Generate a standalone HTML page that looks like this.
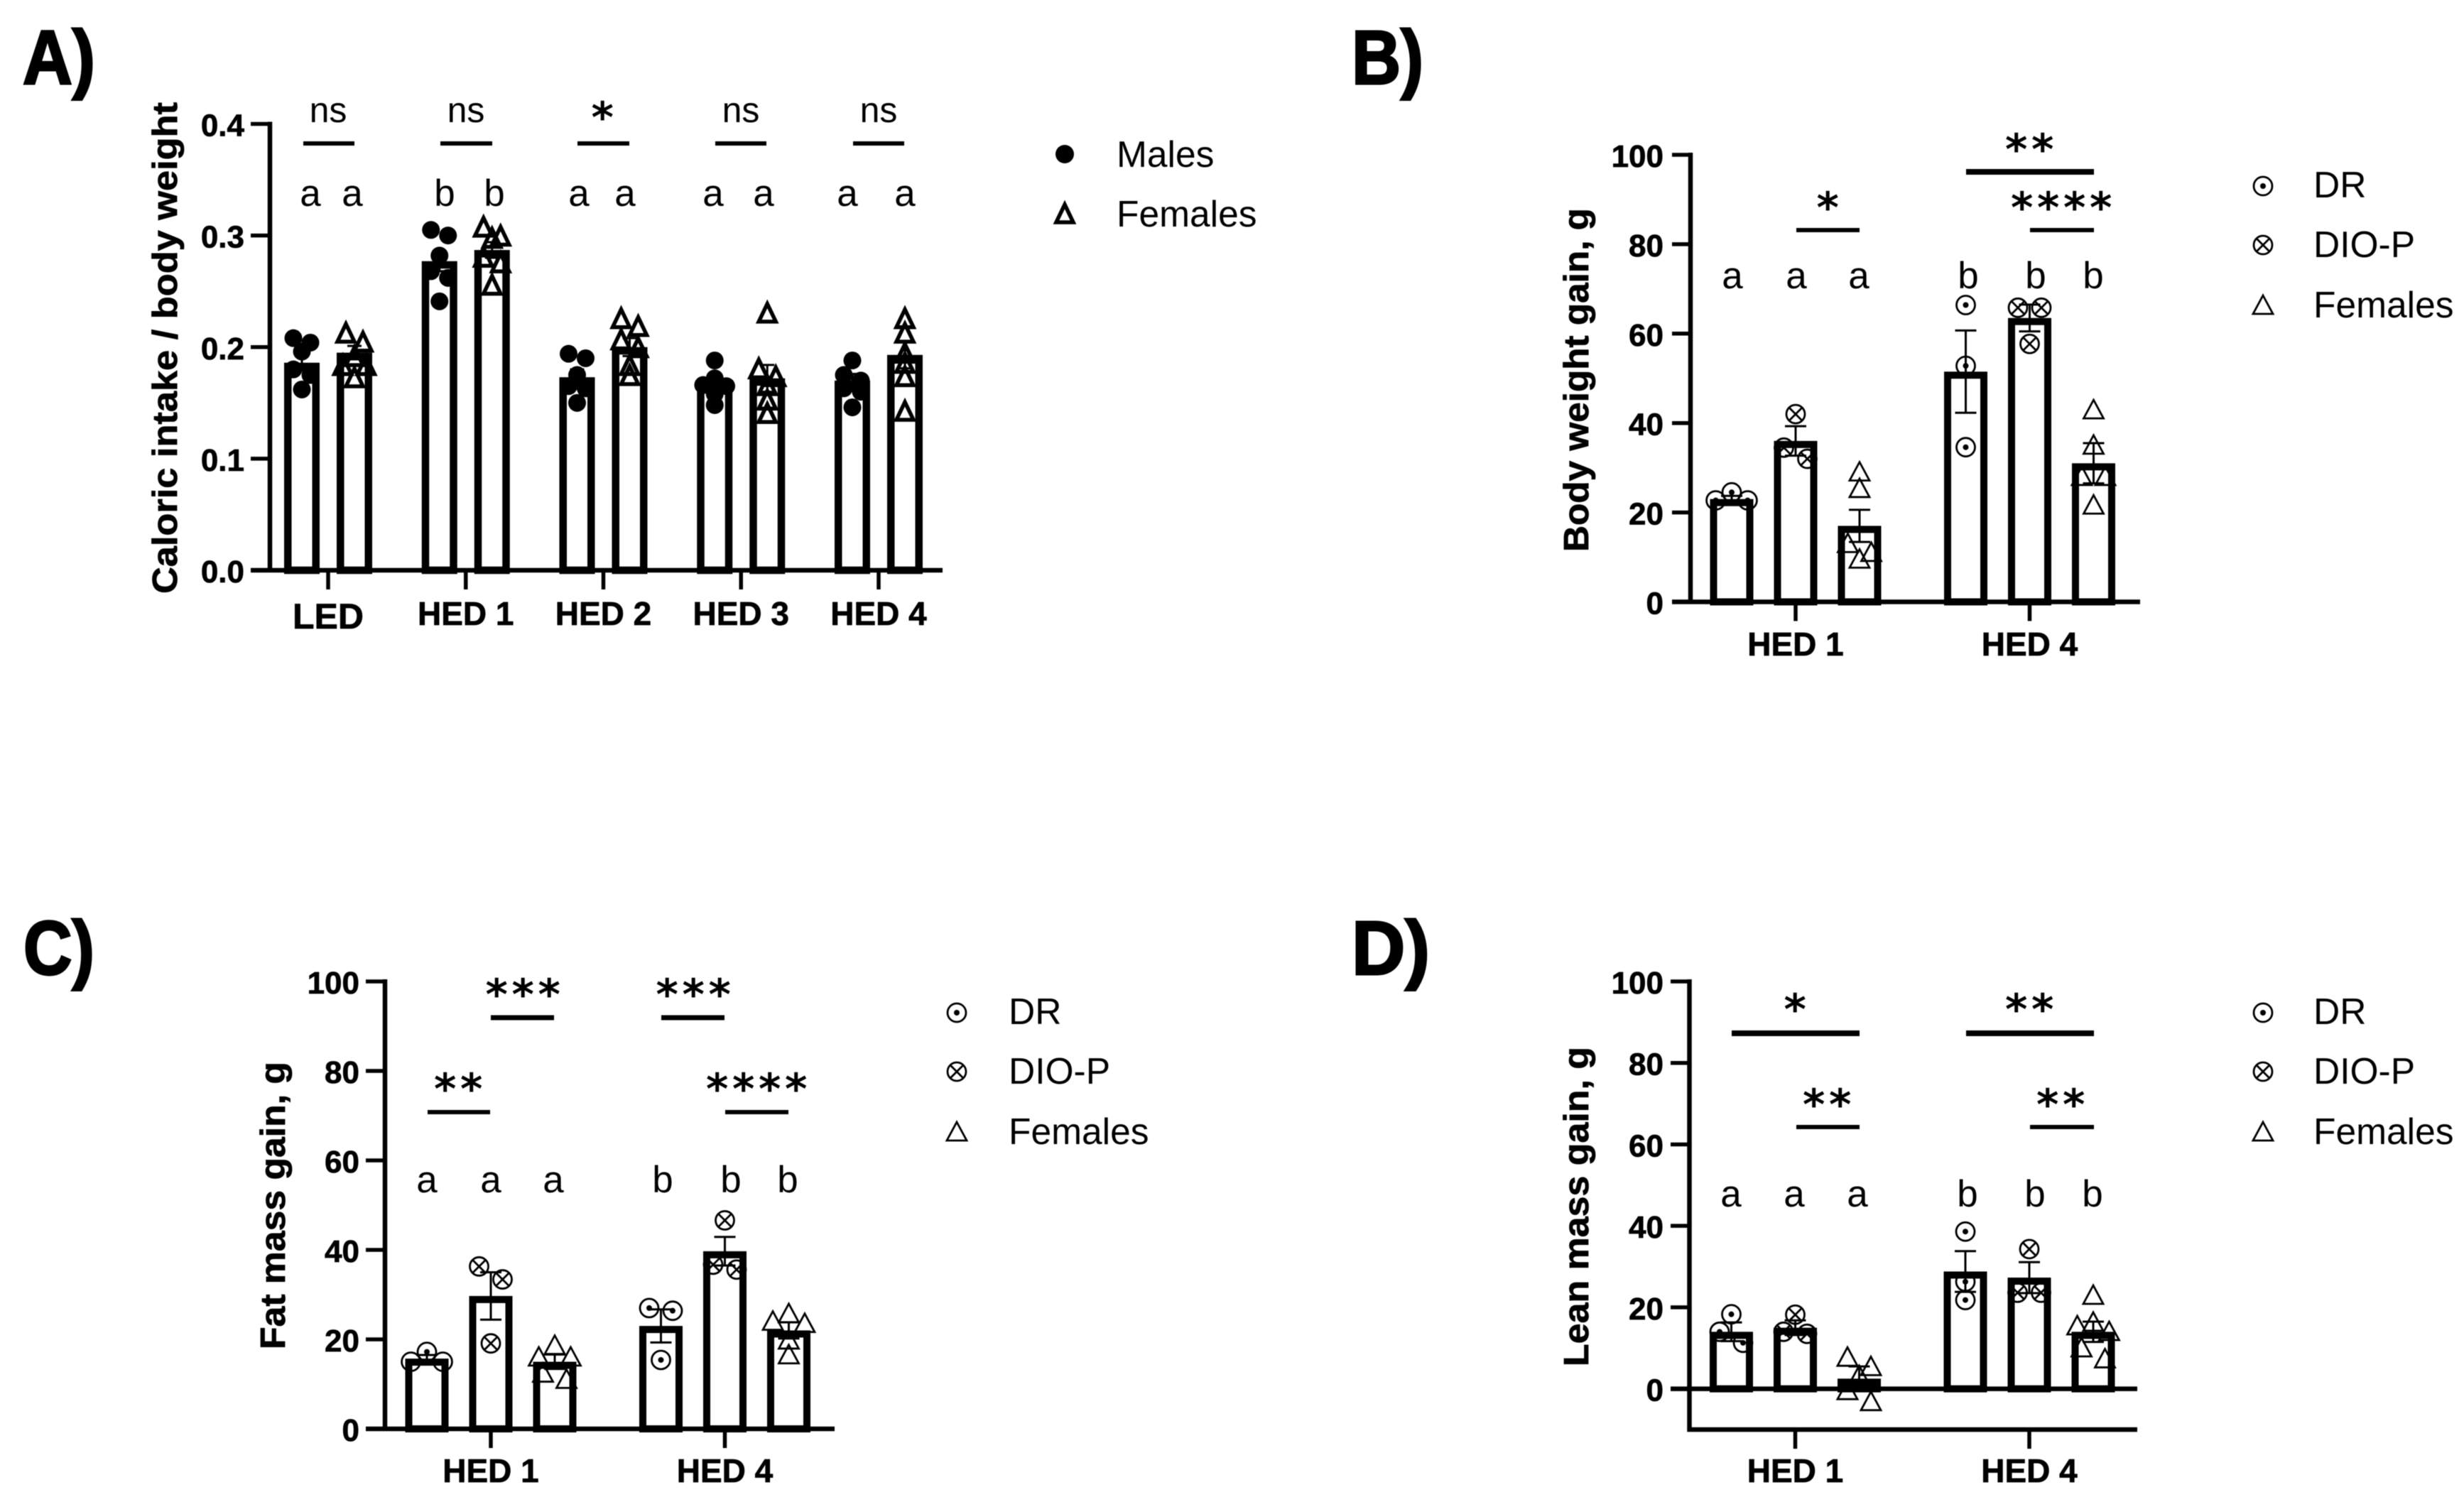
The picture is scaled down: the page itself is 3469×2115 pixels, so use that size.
<!DOCTYPE html>
<html lang="en">
<head>
<meta charset="utf-8">
<title>Caloric intake and weight gain panels</title>
<style>
html,body{margin:0;padding:0;background:#fff;}
svg{display:block;filter:blur(0.6px);}
text{font-family:"Liberation Sans",sans-serif;fill:#000;}
.title{font-size:108px;font-weight:700;stroke:#000;stroke-width:3px;}
.ylab{font-size:49px;font-weight:700;stroke:#000;stroke-width:0.8px;}
.leg{font-size:51.5px;}
.lt{font-size:53px;text-anchor:middle;}
.star{font-family:"DejaVu Sans",sans-serif;font-size:60px;font-weight:700;text-anchor:middle;letter-spacing:5.6px;}
.ns{font-size:50px;text-anchor:middle;}
.sig{stroke:#000;fill:none;}
.mk{stroke:#000;fill:none;stroke-width:2.8;}
.tk{stroke:#000;stroke-width:0.7px;}
</style>
</head>
<body>
<svg id="figure" xmlns="http://www.w3.org/2000/svg" width="3469" height="2115" viewBox="0 0 3469 2115">
<rect width="3469" height="2115" fill="#fff"/>

<text class="title" x="32" y="118" textLength="102" lengthAdjust="spacingAndGlyphs">A)</text>
<text class="title" x="1903" y="118" textLength="101" lengthAdjust="spacingAndGlyphs">B)</text>
<text class="title" x="33" y="1372" textLength="100" lengthAdjust="spacingAndGlyphs">C)</text>
<text class="title" x="1903" y="1372" textLength="110" lengthAdjust="spacingAndGlyphs">D)</text>

<text class="ylab" transform="translate(249,836) rotate(-90)" textLength="692" lengthAdjust="spacingAndGlyphs">Caloric intake / body weight</text>
<text class="ylab" transform="translate(2236,777) rotate(-90)" textLength="484" lengthAdjust="spacingAndGlyphs">Body weight gain, g</text>
<text class="ylab" transform="translate(401,1900) rotate(-90)" textLength="405" lengthAdjust="spacingAndGlyphs">Fat mass gain, g</text>
<text class="ylab" transform="translate(2236,1924) rotate(-90)" textLength="450" lengthAdjust="spacingAndGlyphs">Lean mass gain, g</text>

<g id="plots"></g>

<!-- Panel A annotations -->
<g>
<text class="ns" x="462" y="172">ns</text>
<text class="ns" x="656" y="172">ns</text>
<text class="star" x="851" y="186">*</text>
<text class="ns" x="1043" y="172">ns</text>
<text class="ns" x="1237" y="172">ns</text>
<line class="sig" stroke-width="6" x1="427" x2="499" y1="202" y2="202"/>
<line class="sig" stroke-width="6" x1="620" x2="693" y1="202" y2="202"/>
<line class="sig" stroke-width="6" x1="813" x2="886" y1="202" y2="202"/>
<line class="sig" stroke-width="6" x1="1007" x2="1079" y1="202" y2="202"/>
<line class="sig" stroke-width="6" x1="1201" x2="1273" y1="202" y2="202"/>
<text class="lt" x="437" y="290">a</text>
<text class="lt" x="496" y="290">a</text>
<text class="lt" x="626" y="290">b</text>
<text class="lt" x="696" y="290">b</text>
<text class="lt" x="815" y="290">a</text>
<text class="lt" x="880" y="290">a</text>
<text class="lt" x="1004" y="290">a</text>
<text class="lt" x="1075" y="290">a</text>
<text class="lt" x="1193" y="290">a</text>
<text class="lt" x="1274" y="290">a</text>
</g>

<!-- Panel B annotations -->
<g>
<text class="star" x="2576" y="313">*</text>
<text class="star" x="2860" y="231">**</text>
<text class="star" x="2905" y="313">****</text>
<line class="sig" stroke-width="6" x1="2529" x2="2618" y1="324" y2="324"/>
<line class="sig" stroke-width="8" x1="2768" x2="2948" y1="242" y2="242"/>
<line class="sig" stroke-width="6" x1="2858" x2="2948" y1="324" y2="324"/>
<text class="lt" x="2439" y="406">a</text>
<text class="lt" x="2529" y="406">a</text>
<text class="lt" x="2617" y="406">a</text>
<text class="lt" x="2771" y="406">b</text>
<text class="lt" x="2866" y="406">b</text>
<text class="lt" x="2947" y="406">b</text>
</g>

<!-- Panel C annotations -->
<g>
<text class="star" x="648" y="1554">**</text>
<text class="star" x="739" y="1421">***</text>
<text class="star" x="979" y="1421">***</text>
<text class="star" x="1068" y="1554">****</text>
<line class="sig" stroke-width="6" x1="602" x2="690" y1="1566" y2="1566"/>
<line class="sig" stroke-width="7" x1="691" x2="780" y1="1433" y2="1433"/>
<line class="sig" stroke-width="7" x1="931" x2="1020" y1="1433" y2="1433"/>
<line class="sig" stroke-width="6" x1="1021" x2="1110" y1="1566" y2="1566"/>
<text class="lt" x="601" y="1679">a</text>
<text class="lt" x="691" y="1679">a</text>
<text class="lt" x="779" y="1679">a</text>
<text class="lt" x="933" y="1679">b</text>
<text class="lt" x="1029" y="1679">b</text>
<text class="lt" x="1109" y="1679">b</text>
</g>

<!-- Panel D annotations -->
<g>
<text class="star" x="2530" y="1442">*</text>
<text class="star" x="2860" y="1442">**</text>
<text class="star" x="2575" y="1576">**</text>
<text class="star" x="2904" y="1576">**</text>
<line class="sig" stroke-width="8" x1="2438" x2="2618" y1="1455" y2="1455"/>
<line class="sig" stroke-width="8" x1="2768" x2="2948" y1="1455" y2="1455"/>
<line class="sig" stroke-width="6" x1="2529" x2="2618" y1="1587" y2="1587"/>
<line class="sig" stroke-width="6" x1="2858" x2="2948" y1="1587" y2="1587"/>
<text class="lt" x="2437" y="1699">a</text>
<text class="lt" x="2526" y="1699">a</text>
<text class="lt" x="2615" y="1699">a</text>
<text class="lt" x="2770" y="1699">b</text>
<text class="lt" x="2865" y="1699">b</text>
<text class="lt" x="2946" y="1699">b</text>
</g>

<!-- Legends -->
<g>
<g>
<circle cx="1499" cy="217" r="13" fill="#000"/>
<text class="leg" x="1572" y="235">Males</text>
</g>
<g>
<path d="M1499 288 L1511 313 L1487 313 Z" fill="none" stroke="#000" stroke-width="5.5"/>
<text class="leg" x="1572" y="319">Females</text>
</g>
</g>

<g>
<g>
<circle class="mk" cx="3186" cy="262" r="13"/>
<circle cx="3186" cy="262" r="4" fill="#000"/>
<text class="leg" x="3257" y="278">DR</text>
</g>
<g>
<circle class="mk" cx="3186" cy="345" r="13"/>
<path class="mk" d="M3177 336 L3195 354 M3195 336 L3177 354"/>
<text class="leg" x="3257" y="362">DIO-P</text>
</g>
<g>
<path class="mk" d="M3186 416 L3200 442 L3172 442 Z"/>
<text class="leg" x="3257" y="447">Females</text>
</g>
</g>

<g>
<g>
<circle class="mk" cx="1347" cy="1426" r="13"/>
<circle cx="1347" cy="1426" r="4" fill="#000"/>
<text class="leg" x="1420" y="1442">DR</text>
</g>
<g>
<circle class="mk" cx="1347" cy="1509" r="13"/>
<path class="mk" d="M1338 1500 L1356 1518 M1356 1500 L1338 1518"/>
<text class="leg" x="1420" y="1526">DIO-P</text>
</g>
<g>
<path class="mk" d="M1347 1580 L1361 1606 L1333 1606 Z"/>
<text class="leg" x="1420" y="1611">Females</text>
</g>
</g>

<g>
<g>
<circle class="mk" cx="3186" cy="1426" r="13"/>
<circle cx="3186" cy="1426" r="4" fill="#000"/>
<text class="leg" x="3257" y="1442">DR</text>
</g>
<g>
<circle class="mk" cx="3186" cy="1509" r="13"/>
<path class="mk" d="M3177 1500 L3195 1518 M3195 1500 L3177 1518"/>
<text class="leg" x="3257" y="1526">DIO-P</text>
</g>
<g>
<path class="mk" d="M3186 1580 L3200 1606 L3172 1606 Z"/>
<text class="leg" x="3257" y="1611">Females</text>
</g>
</g>
</svg>

<script>
// ---------- Panel A data ----------
const aCategories = ['LED', 'HED 1', 'HED 2', 'HED 3', 'HED 4'];
const aYTicks = [0, 0.1, 0.2, 0.3, 0.4];
const aYTickLabels = ['0.0', '0.1', '0.2', '0.3', '0.4'];
const aMaleMeans = [0.186, 0.277, 0.173, 0.166, 0.17];
const aMaleSems = [0.007, 0.009, 0.007, 0.006, 0.006];
const aFemaleMeans = [0.195, 0.287, 0.2, 0.172, 0.193];
const aFemaleSems = [0.006, 0.007, 0.008, 0.012, 0.012];
const aMalePoints = [
  [0.208, 0.204, 0.196, 0.18, 0.175, 0.162],
  [0.305, 0.3, 0.282, 0.268, 0.262, 0.241],
  [0.194, 0.19, 0.175, 0.165, 0.163, 0.15],
  [0.188, 0.172, 0.166, 0.165, 0.158, 0.148],
  [0.188, 0.175, 0.17, 0.163, 0.16, 0.146]
];
const aFemalePoints = [
  [0.212, 0.204, 0.191, 0.183, 0.183, 0.172],
  [0.307, 0.299, 0.297, 0.28, 0.275, 0.255],
  [0.225, 0.218, 0.206, 0.199, 0.183, 0.174],
  [0.23, 0.18, 0.173, 0.165, 0.152, 0.14],
  [0.225, 0.212, 0.194, 0.185, 0.173, 0.142]
];

// ---------- Panel B data ----------
const bCategories = ['HED 1', 'HED 4'];
const bYTicks = [0, 20, 40, 60, 80, 100];
const bYTickLabels = ['0', '20', '40', '60', '80', '100'];
const bDrMeans = [23, 51.5];
const bDrSems = [0.7, 9.2];
const bDrPoints = [[24.5, 22.7, 22.7], [66.4, 52.8, 34.6]];
const bDioMeans = [36, 63.5];
const bDioSems = [3.3, 3];
const bDioPoints = [[42, 34.5, 32], [65.8, 65.8, 57.7]];
const bFemaleMeans = [17, 31];
const bFemaleSems = [3.6, 4.5];
const bFemalePoints = [[29, 25.3, 13, 11, 9.5], [42.9, 35, 28, 28, 21.6]];

// ---------- Panel C data ----------
const cCategories = ['HED 1', 'HED 4'];
const cYTicks = [0, 20, 40, 60, 80, 100];
const cYTickLabels = ['0', '20', '40', '60', '80', '100'];
const cDrMeans = [15.7, 23];
const cDrSems = [0.8, 3.7];
const cDrPoints = [[17.2, 15, 15], [27, 26.4, 15.4]];
const cDioMeans = [29.7, 39.7];
const cDioSems = [5.3, 3.2];
const cDioPoints = [[36.3, 33.4, 19.1], [46.6, 36.7, 35.6]];
const cFemaleMeans = [15, 22];
const cFemaleSems = [1.6, 1.8];
const cFemalePoints = [[18.6, 16, 16, 12.4, 11], [25.7, 24, 23.5, 19.8, 16.5]];

// ---------- Panel D data ----------
const dCategories = ['HED 1', 'HED 4'];
const dYTicks = [0, 20, 40, 60, 80, 100];
const dYTickLabels = ['0', '20', '40', '60', '80', '100'];
const dDrMeans = [14, 28.8];
const dDrSems = [2.3, 5];
const dDrPoints = [[18.3, 14, 11.3], [38.6, 26.3, 21.8]];
const dDioMeans = [15, 27.3];
const dDioSems = [1.8, 3.8];
const dDioPoints = [[18.2, 14, 13.5], [34.3, 23.6, 23.6]];
const dFemaleMeans = [2.5, 14];
const dFemaleSems = [3, 2.5];
const dFemalePoints = [[7.7, 5.4, 3.2, -0.5, -3.2], [22.9, 16.3, 15.4, 14, 10, 7.3]];

// ---------- Drawing ----------
const NS = 'http://www.w3.org/2000/svg';
const plots = document.getElementById('plots');

function mk(tag, parent, attrs) {
  const el = document.createElementNS(NS, tag);
  for (const k in attrs) el.setAttribute(k, attrs[k]);
  parent.appendChild(el);
  return el;
}

// Group points into rows of near-equal values, then spread each row symmetrically (Prism-style).
function swarm(values, yFn, threshold, spacing) {
  const sorted = values.slice().sort((a, b) => b - a);
  const out = [];
  let row = [];
  const flush = () => {
    const n = row.length;
    const sp = n >= 3 ? spacing * 0.68 : spacing;
    const offs = [];
    if (n % 2) offs.push(0);
    for (let k = n % 2 ? 1 : 0.5; offs.length < n; k += 1) { offs.push(-k * sp); offs.push(k * sp); }
    row.forEach((v, i) => out.push({ v: v, off: offs[i] }));
    row = [];
  };
  sorted.forEach(v => {
    if (row.length && Math.abs(yFn(row[0]) - yFn(v)) > threshold) flush();
    row.push(v);
  });
  if (row.length) flush();
  return out;
}

function drawMarker(parent, kind, cx, cy, sz) {
  if (kind === 'disc') {
    const c = mk('circle', parent, { cx: cx, cy: cy, r: sz.r, fill: '#000' });
    
    
  } else if (kind === 'dot') {
    const g = mk('g', parent, {});
    
    
    mk('circle', g, { cx: cx, cy: cy, r: sz.r, fill: 'none', stroke: '#000', 'stroke-width': sz.sw });
    mk('circle', g, { cx: cx, cy: cy, r: 4, fill: '#000' });
  } else if (kind === 'cross') {
    const g = mk('g', parent, {});
    
    
    mk('circle', g, { cx: cx, cy: cy, r: sz.r, fill: 'none', stroke: '#000', 'stroke-width': sz.sw });
    const d = sz.r * 0.7;
    mk('path', g, { d: `M${cx - d} ${cy - d} L${cx + d} ${cy + d} M${cx + d} ${cy - d} L${cx - d} ${cy + d}`, fill: 'none', stroke: '#000', 'stroke-width': sz.sw });
  } else {
    const t = mk('path', parent, {
      d: `M${cx} ${cy - sz.th * 0.55} L${cx + sz.tw / 2} ${cy + sz.th * 0.45} L${cx - sz.tw / 2} ${cy + sz.th * 0.45} Z`,
      fill: 'none', stroke: '#000', 'stroke-width': sz.tsw
    });
    
    
  }
}

function drawPanel(p) {
  const g = mk('g', plots, {});
  
  
  const y = v => p.yBottom + (v - p.yMin) / (p.yMax - p.yMin) * (p.yTop - p.yBottom);
  const catX = i => p.catStart + i * p.catStep;
  const barX = (i, j) => catX(i) + (j - (p.series.length - 1) / 2) * p.barStep;

  // bars
  p.series.forEach((s, j) => {
    s.means.forEach((m, i) => {
      const cx = barX(i, j), sw = p.barBorder;
      const top = Math.min(y(m), y(0)), h = Math.abs(y(0) - y(m));
      const b = mk('rect', g, { x: cx - p.barW / 2 + sw / 2, y: top + sw / 2, width: p.barW - sw, height: Math.max(h - sw / 2, 0.1), fill: '#fff', stroke: '#000', 'stroke-width': sw });
      
      
    });
  });

  // points
  p.series.forEach((s, j) => {
    s.points.forEach((vals, i) => {
      swarm(vals, y, p.rowPx, p.spacing).forEach(pt => {
        drawMarker(g, s.marker, barX(i, j) + pt.off, y(pt.v), p.marker);
      });
    });
  });

  // error bars
  p.series.forEach((s, j) => {
    s.means.forEach((m, i) => {
      const cx = barX(i, j), hi = y(m + s.sems[i]), lo = y(m - s.sems[i]), c = p.capW / 2;
      const e = mk('path', g, { d: `M${cx} ${lo} L${cx} ${hi} M${cx - c} ${hi} L${cx + c} ${hi} M${cx - c} ${lo} L${cx + c} ${lo}`, fill: 'none', stroke: '#000', 'stroke-width': 3 });
      
      
    });
  });

  // y axis
  const ya = mk('line', g, { x1: p.axisX, x2: p.axisX, y1: y(p.yMin) + 3, y2: y(p.yMax) - 3, stroke: '#000', 'stroke-width': 6.5 });
  
  
  p.yTicks.forEach((t, i) => {
    const tl = mk('line', g, { x1: p.tickLeft, x2: p.axisX, y1: y(t), y2: y(t), stroke: '#000', 'stroke-width': 5.5 });
    
    
    const lb = mk('text', g, { class: 'tk', x: p.labelRight, y: y(t) + 17, 'text-anchor': 'end', 'font-size': 44, 'font-weight': 700 });
    
    
    lb.textContent = p.yTickLabels[i];
  });

  // x axis
  const xa = mk('line', g, { x1: p.yMin < 0 ? p.axisX - 3 : p.tickLeft, x2: p.axisEnd, y1: y(p.yMin), y2: y(p.yMin), stroke: '#000', 'stroke-width': 6.5 });
  
  
  if (p.yMin < 0) {
    const z = mk('line', g, { x1: p.tickLeft, x2: p.axisEnd, y1: y(0), y2: y(0), stroke: '#000', 'stroke-width': 6.5 });
    
    
  }
  p.categories.forEach((c, i) => {
    const t = mk('line', g, { x1: catX(i), x2: catX(i), y1: y(p.yMin), y2: y(p.yMin) + 27, stroke: '#000', 'stroke-width': 5.5 });
    
    
    const big = p.firstLabelBig && i === 0;
    const lb = mk('text', g, { class: 'tk', x: catX(i), y: p.catBaseline + (big ? 5 : 0), 'text-anchor': 'middle', 'font-size': big ? 50 : 46, 'font-weight': 700 });
    
    
    lb.textContent = c;
  });
}

const thinMarker = { r: 13, sw: 2.8, tw: 28, th: 26, tsw: 2.8 };

drawPanel({
  name: 'panel-a-chart', categories: aCategories, yTicks: aYTicks, yTickLabels: aYTickLabels,
  yMin: 0, yMax: 0.4, yBottom: 803, yTop: 174.5, axisX: 380, tickLeft: 353, labelRight: 344, axisEnd: 1327,
  catStart: 462, catStep: 193.75, barStep: 74, barW: 50, barBorder: 10.5, capW: 20, catBaseline: 880, firstLabelBig: true,
  rowPx: 14, spacing: 24, marker: { r: 12.5, sw: 3, tw: 24, th: 25, tsw: 5.5 },
  series: [
    { means: aMaleMeans, sems: aMaleSems, points: aMalePoints, marker: 'disc' },
    { means: aFemaleMeans, sems: aFemaleSems, points: aFemalePoints, marker: 'tri' }
  ]
});

drawPanel({
  name: 'panel-b-chart', categories: bCategories, yTicks: bYTicks, yTickLabels: bYTickLabels,
  yMin: 0, yMax: 100, yBottom: 847.5, yTop: 218, axisX: 2380, tickLeft: 2354, labelRight: 2342, axisEnd: 3013,
  catStart: 2528, catStep: 329.5, barStep: 90, barW: 61, barBorder: 10, capW: 30, catBaseline: 923,
  rowPx: 19, spacing: 33, marker: thinMarker,
  series: [
    { means: bDrMeans, sems: bDrSems, points: bDrPoints, marker: 'dot' },
    { means: bDioMeans, sems: bDioSems, points: bDioPoints, marker: 'cross' },
    { means: bFemaleMeans, sems: bFemaleSems, points: bFemalePoints, marker: 'tri' }
  ]
});

drawPanel({
  name: 'panel-c-chart', categories: cCategories, yTicks: cYTicks, yTickLabels: cYTickLabels,
  yMin: 0, yMax: 100, yBottom: 2012, yTop: 1382, axisX: 542, tickLeft: 515, labelRight: 506, axisEnd: 1175,
  catStart: 691, catStep: 329.5, barStep: 90, barW: 61, barBorder: 10, capW: 30, catBaseline: 2087,
  rowPx: 19, spacing: 33, marker: thinMarker,
  series: [
    { means: cDrMeans, sems: cDrSems, points: cDrPoints, marker: 'dot' },
    { means: cDioMeans, sems: cDioSems, points: cDioPoints, marker: 'cross' },
    { means: cFemaleMeans, sems: cFemaleSems, points: cFemalePoints, marker: 'tri' }
  ]
});

drawPanel({
  name: 'panel-d-chart', categories: dCategories, yTicks: dYTicks, yTickLabels: dYTickLabels,
  yMin: -10, yMax: 100, yBottom: 2013, yTop: 1382, axisX: 2378.5, tickLeft: 2352, labelRight: 2342, axisEnd: 3009,
  catStart: 2527.5, catStep: 329.5, barStep: 90, barW: 61, barBorder: 10, capW: 30, catBaseline: 2087,
  rowPx: 19, spacing: 33, marker: thinMarker,
  series: [
    { means: dDrMeans, sems: dDrSems, points: dDrPoints, marker: 'dot' },
    { means: dDioMeans, sems: dDioSems, points: dDioPoints, marker: 'cross' },
    { means: dFemaleMeans, sems: dFemaleSems, points: dFemalePoints, marker: 'tri' }
  ]
});
</script>
</body>
</html>
